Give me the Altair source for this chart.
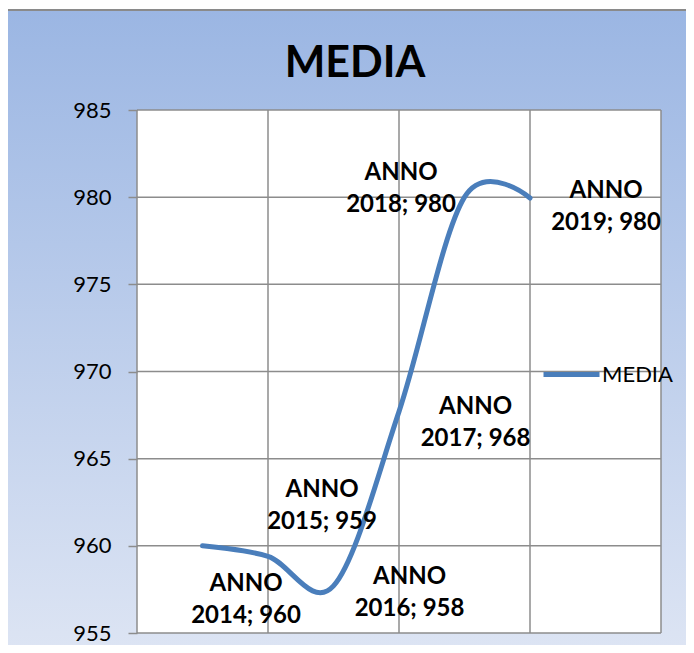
import altair as alt
import pandas as pd

# ---- data ----
YEARS = ["2014", "2015", "2016", "2017", "2018", "2019"]
MEDIA = [960.0, 959.4, 957.7, 967.7, 980.0, 979.95]
Y_TICKS = [955, 960, 965, 970, 975, 980, 985]
X_GRID = [0, 2, 4, 6, 8]
SERIES = "MEDIA"

# ---- styles (label offsets in px, from each point) ----
LABEL_OFFSETS = [(43.5, 38.5), (54, -66.5), (76, -9), (76.5, -5), (-63.5, -24.5), (76, -7.5)]
W, H = 524, 523
TOP = 102
FONT = "Lato"
GRID_COLOR = "#8C8C8C"
LINE_COLOR = "#4A7EBB"

df = pd.DataFrame({
    "pos": list(range(1, len(YEARS) + 1)),
    "anno": YEARS,
    "media": MEDIA,
    "serie": [SERIES] * len(YEARS),
})
df["label"] = [f"ANNO\n{a}; {round(v)}" for a, v in zip(YEARS, MEDIA)]

xs = alt.Scale(domain=[X_GRID[0], X_GRID[-1]], nice=False, zero=False)
ys = alt.Scale(domain=[Y_TICKS[0], Y_TICKS[-1]], nice=False, zero=False)

y_axis = alt.Axis(
    values=Y_TICKS, title=None, grid=False, domain=False, zindex=1,
    tickColor=GRID_COLOR, tickWidth=1.5, tickSize=9,
    labelFont=FONT, labelFontSize=22, labelColor="#000000", labelPadding=17,
)

bg_top = -(TOP + 8 - 10)
bg = alt.Chart(alt.Data(values=[{}])).mark_rect(
    fill=alt.Gradient(
        gradient="linear",
        stops=[alt.GradientStop(color="#9BB6E3", offset=0),
               alt.GradientStop(color="#DFE6F4", offset=1)],
        x1=0, x2=0, y1=0, y2=1,
    ),
    stroke="#8A8A8A", strokeWidth=2,
).encode(x=alt.value(-131), x2=alt.value(W + 80), y=alt.value(bg_top), y2=alt.value(H + 40))

plot_bg = alt.Chart(alt.Data(values=[{}])).mark_rect(fill="white").encode(
    x=alt.value(0), x2=alt.value(W), y=alt.value(0), y2=alt.value(H)
)

hgrid = alt.Chart(pd.DataFrame({"v": Y_TICKS})).mark_rule(
    color=GRID_COLOR, strokeWidth=1.5
).encode(
    y=alt.Y("v:Q", scale=ys, axis=y_axis),
    x=alt.value(0), x2=alt.value(W),
)

vgrid = alt.Chart(pd.DataFrame({"g": X_GRID})).mark_rule(
    color=GRID_COLOR, strokeWidth=1.5
).encode(
    x=alt.X("g:Q", scale=xs, axis=None),
    y=alt.value(0), y2=alt.value(H),
)

line = alt.Chart(df).mark_line(
    interpolate="cardinal", strokeWidth=5, strokeCap="round"
).encode(
    x=alt.X("pos:Q", scale=xs, axis=None),
    y=alt.Y("media:Q", scale=ys, axis=y_axis),
    color=alt.Color(
        "serie:N",
        scale=alt.Scale(domain=[SERIES], range=[LINE_COLOR]),
        legend=alt.Legend(
            title=None, orient="none", legendX=404, legendY=234,
            symbolType="stroke", symbolSize=3136, symbolStrokeWidth=5,
            labelFont=FONT, labelFontSize=22, labelColor="#000000",
            labelOffset=0, padding=0,
        ),
    ),
)

labels = []
for i, (dx, dy) in enumerate(LABEL_OFFSETS):
    labels.append(
        alt.Chart(df.iloc[[i]]).mark_text(
            dx=dx, dy=dy, align="center", baseline="middle", lineBreak="\n",
            lineHeight=32, font=FONT, fontSize=24, fontWeight="bold", color="#000000",
        ).encode(
            x=alt.X("pos:Q", scale=xs, axis=None),
            y=alt.Y("media:Q", scale=ys, axis=y_axis),
            text="label:N",
        )
    )

chart = alt.layer(bg, plot_bg, hgrid, vgrid, line, *labels).properties(
    width=W, height=H,
    title=alt.TitleParams(
        "MEDIA", font=FONT, fontSize=43, fontWeight="bold", color="#000000",
        anchor="middle", frame="group", dx=-44, offset=-77,
    ),
    autosize=alt.AutoSizeParams(type="none"),
    padding={"left": 129, "top": TOP, "right": 25, "bottom": 12},
).configure_view(stroke=None).configure(background="white")

chart.save("out.html", embed_options={"renderer": "svg", "actions": False})
